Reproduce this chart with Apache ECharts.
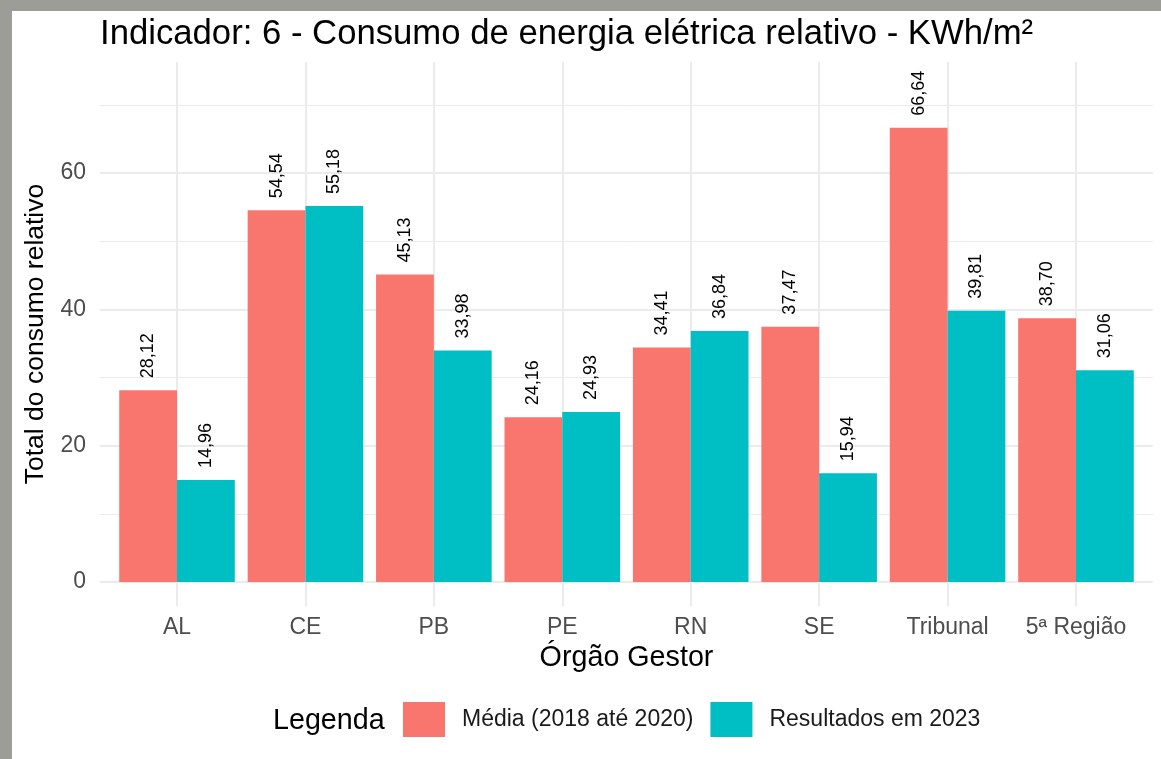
<!DOCTYPE html>
<html>
<head>
  <meta charset="utf-8">
  <title>Indicador 6 - Consumo de energia elétrica relativo</title>
  <script src="https://cdn.jsdelivr.net/npm/echarts@6/dist/echarts.min.js"></script>
  <style>
    html, body { margin: 0; padding: 0; }
    body { width: 1161px; height: 759px; background: #9d9d97; position: relative; overflow: hidden; }
    #paper { position: absolute; left: 12px; top: 11px; right: 0; bottom: 0; background: #fff; }
    #chart { position: absolute; left: 0; top: 0; width: 1161px; height: 759px; }
  </style>
</head>
<body>
  <div id="paper"></div>
  <div id="chart"></div>

  <script>
    // Data
    const orgaos = ['AL', 'CE', 'PB', 'PE', 'RN', 'SE', 'Tribunal', '5ª Região'];
    const media2018a2020 = [28.12, 54.54, 45.13, 24.16, 34.41, 37.47, 66.64, 38.70];
    const resultados2023 = [14.96, 55.18, 33.98, 24.93, 36.84, 15.94, 39.81, 31.06];
    const yTicks = [0, 20, 40, 60];

    const font = '"Liberation Sans", Arial, sans-serif';
    const gridColor = '#ebebeb';
    const yMax = 76.3;

    const chart = echarts.init(document.getElementById('chart'), null, { renderer: 'canvas' });

    const fmt = v => v.toFixed(2).replace('.', ',');

    const barLabel = {
      show: true, position: 'top', rotate: 90, align: 'left', verticalAlign: 'middle',
      distance: 12, fontFamily: font, fontSize: 18, color: '#000',
      formatter: p => fmt(p.value)
    };

    const option = {
      backgroundColor: 'transparent',
      animation: false,
      textStyle: { fontFamily: font },
      title: {
        text: 'Indicador: 6 - Consumo de energia elétrica relativo - KWh/m²',
        left: 100,
        top: 17,
        padding: 0,
        textStyle: { fontFamily: font, fontSize: 34.7, fontWeight: 'normal', color: '#000' }
      },
      grid: [
        // bars + vertical grid lines
        { left: 112.8, right: 20.8, top: 62, bottom: 177, outerBoundsMode: 'none' },
        // horizontal grid lines across the full panel
        { left: 100, right: 8, top: 62, bottom: 177, outerBoundsMode: 'none' }
      ],
      xAxis: [
        {
          type: 'category', gridIndex: 0, data: orgaos,
          name: 'Órgão Gestor', nameLocation: 'middle', nameGap: 58,
          nameTextStyle: { fontFamily: font, fontSize: 28.7, color: '#000' },
          axisLine: { show: false },
          axisTick: { show: true, interval: 0, alignWithLabel: true, length: 24, lineStyle: { color: gridColor, width: 2 } },
          axisLabel: { interval: 0, color: '#4d4d4d', fontSize: 23, margin: 34, fontFamily: font },
          splitLine: { show: false }
        },
        {
          type: 'category', gridIndex: 0, data: orgaos, position: 'bottom',
          axisLine: { show: false },
          axisTick: { show: true, interval: 0, inside: true, alignWithLabel: true, length: 520, lineStyle: { color: gridColor, width: 2 } },
          axisLabel: { show: false },
          splitLine: { show: false }
        },
        {
          type: 'value', gridIndex: 1, show: false, min: 0, max: 1
        }
      ],
      yAxis: [
        {
          type: 'value', gridIndex: 0, min: 0, max: yMax,
          axisLine: { show: false }, axisTick: { show: false },
          axisLabel: { show: false }, splitLine: { show: false }
        },
        {
          // minor grid lines
          type: 'value', gridIndex: 1, position: 'left', min: 0, max: yMax, interval: 10,
          axisLine: { show: false }, axisTick: { show: false },
          axisLabel: { show: false },
          splitLine: { show: true, showMaxLine: false, lineStyle: { color: gridColor, width: 1 } }
        },
        {
          // major grid lines with labels
          type: 'value', gridIndex: 1, position: 'left', min: 0, max: yMax, interval: 20,
          axisLine: { show: false }, axisTick: { show: false },
          axisLabel: {
            color: '#4d4d4d', fontSize: 23, margin: 14, fontFamily: font,
            formatter: v => (yTicks.includes(v) ? String(v) : '')
          },
          splitLine: { show: true, showMaxLine: false, lineStyle: { color: gridColor, width: 2 } }
        }
      ],
      legend: {
        left: 403,
        top: 702,
        padding: 0,
        itemWidth: 42,
        itemHeight: 35,
        itemGap: 17,
        icon: 'rect',
        textStyle: { fontFamily: font, fontSize: 23, color: '#1a1a1a', padding: [0, 0, 0, 12] },
        data: ['Média (2018 até 2020)', 'Resultados em 2023']
      },
      graphic: [
        {
          type: 'text', left: 273, top: 707,
          style: { text: 'Legenda', fontFamily: font, fontSize: 28.7, fill: '#000' }
        },
        {
          // y axis title, centred on the panel (incl. the expansion below 0)
          type: 'text', x: 36, y: 334, rotation: Math.PI / 2,
          style: {
            text: 'Total do consumo relativo', fontFamily: font, fontSize: 26.5, fill: '#000',
            align: 'center', verticalAlign: 'middle'
          }
        }
      ],
      series: [
        {
          name: 'Média (2018 até 2020)', type: 'bar',
          xAxisIndex: 0, yAxisIndex: 0,
          data: media2018a2020,
          barGap: '0%', barCategoryGap: '10%',
          itemStyle: { color: '#F8766D' },
          label: barLabel
        },
        {
          name: 'Resultados em 2023', type: 'bar',
          xAxisIndex: 0, yAxisIndex: 0,
          data: resultados2023,
          barGap: '0%', barCategoryGap: '10%',
          itemStyle: { color: '#00BFC4' },
          label: barLabel
        }
      ]
    };

    chart.setOption(option);
  </script>
</body>
</html>
